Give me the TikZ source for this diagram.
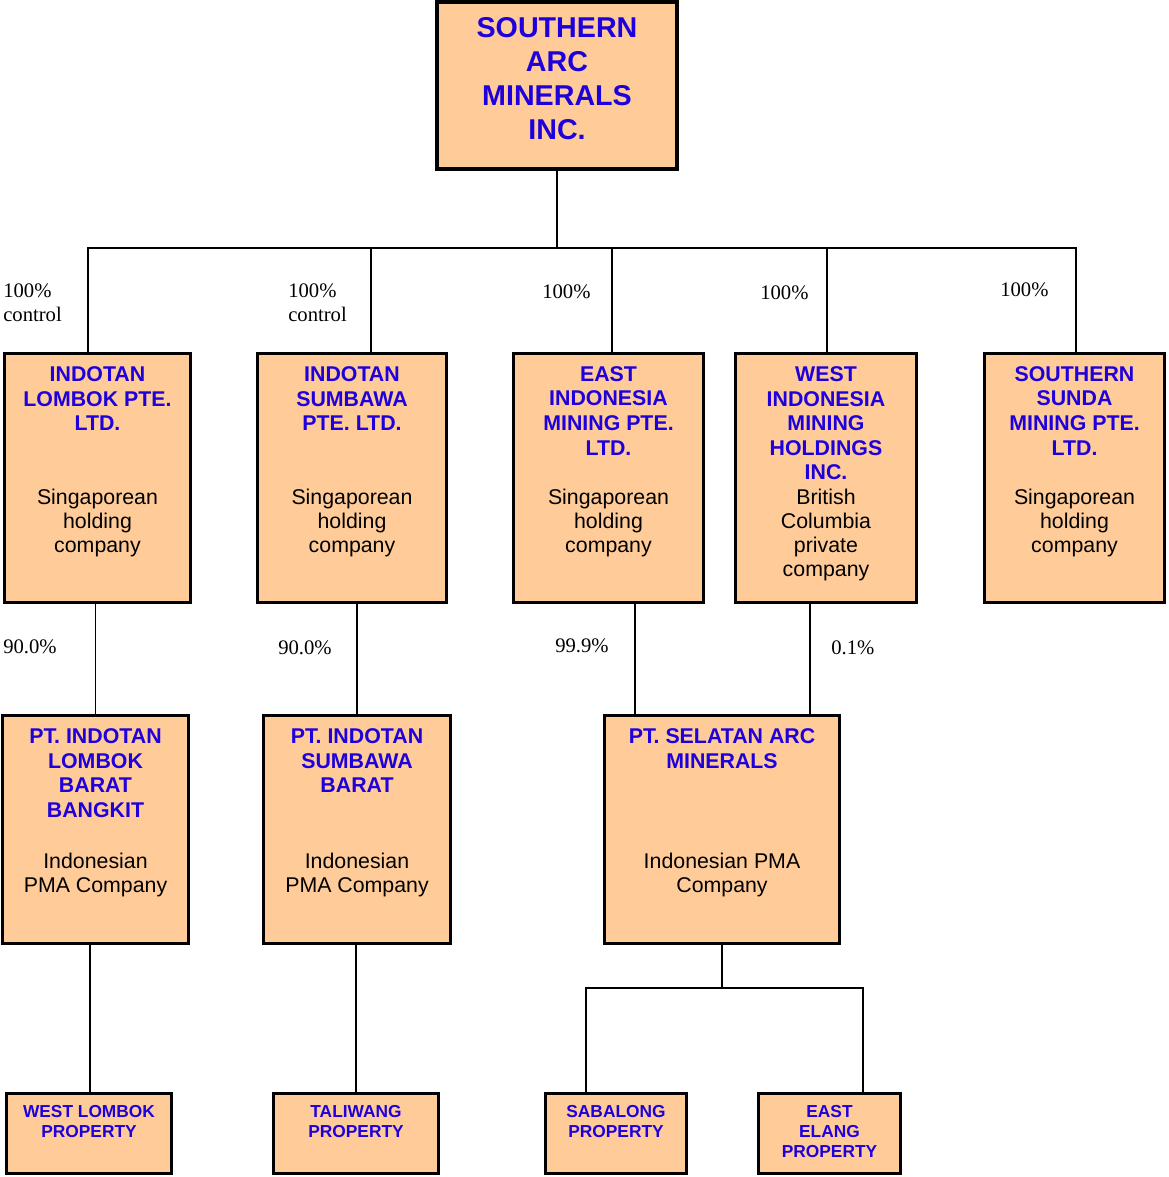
\documentclass[tikz,border=0pt]{standalone}
\usepackage{fontspec}
\setmainfont{Liberation Sans}
\newfontfamily\pctfont{Liberation Serif}
\usetikzlibrary{positioning}
\definecolor{peach}{HTML}{FFCC99}
\definecolor{titleblue}{RGB}{30,0,220}

\begin{document}
\begin{tikzpicture}[x=0.75pt,y=-0.75pt]
\tikzstyle{entity} = [rectangle, draw=black, line width=2.6pt, fill=peach, inner sep=0pt]
\tikzstyle{link} = [draw=black, line width=1pt]
\tikzstyle{bigname} = [text=titleblue, font=\fontsize{21.5}{25.5}\selectfont\bfseries, align=center, inner sep=0pt]
\tikzstyle{coname} = [text=titleblue, font=\fontsize{16}{18.4}\selectfont\bfseries, align=center, inner sep=0pt]
\tikzstyle{propname} = [text=titleblue, font=\fontsize{13}{15}\selectfont\bfseries, align=center, inner sep=0pt]
\tikzstyle{blurb} = [text=black, font=\fontsize{16}{18.2}\selectfont, align=center, inner sep=0pt]
\tikzstyle{share} = [font=\pctfont\fontsize{15.5}{18}\selectfont, align=left, anchor=north west, inner sep=0pt]

\useasboundingbox (0,0) rectangle (1168,1177);

% parent
\node[entity, minimum width=180pt, minimum height=125.25pt] (sam) at (557,85.5) {};
\node[bigname, below=13pt of sam.north] (sam name) {SOUTHERN\\ARC\\MINERALS\\INC.};

% holding companies
\node[entity, minimum width=139.5pt, minimum height=186.75pt] (lombok) at (97.5,478) {};
\node[entity, minimum width=141.75pt, minimum height=186.75pt] (sumbawa) at (352,478) {};
\node[entity, minimum width=142.5pt, minimum height=186.75pt] (eastindo) at (608.5,478) {};
\node[entity, minimum width=135.75pt, minimum height=186.75pt] (westindo) at (826,478) {};
\node[entity, minimum width=135pt, minimum height=186.75pt] (sunda) at (1074.5,478) {};

\node[coname, below=10.9pt of lombok.north] (lombok name) {INDOTAN\\LOMBOK PTE.\\LTD.};
\node[blurb, below=102.4pt of lombok.north] (lombok blurb) {Singaporean\\holding\\company};
\node[coname, below=10.9pt of sumbawa.north] (sumbawa name) {INDOTAN\\SUMBAWA\\PTE. LTD.};
\node[blurb, below=102.4pt of sumbawa.north] (sumbawa blurb) {Singaporean\\holding\\company};
\node[coname, below=10.9pt of eastindo.north] (eastindo name) {EAST\\INDONESIA\\MINING PTE.\\LTD.};
\node[blurb, below=102.4pt of eastindo.north] (eastindo blurb) {Singaporean\\holding\\company};
\node[coname, below=10.9pt of westindo.north] (westindo name) {WEST\\INDONESIA\\MINING\\HOLDINGS\\INC.};
\node[blurb, below=102.4pt of westindo.north] (westindo blurb) {British\\Columbia\\private\\company};
\node[coname, below=10.9pt of sunda.north] (sunda name) {SOUTHERN\\SUNDA\\MINING PTE.\\LTD.};
\node[blurb, below=102.4pt of sunda.north] (sunda blurb) {Singaporean\\holding\\company};

% operating companies
\node[entity, minimum width=139.5pt, minimum height=171pt] (ptlombok) at (95.5,829.5) {};
\node[entity, minimum width=140.25pt, minimum height=171pt] (ptsumbawa) at (357,829.5) {};
\node[entity, minimum width=176.25pt, minimum height=171pt] (selatan) at (722,829.5) {};

\node[coname, below=11.2pt of ptlombok.north] (ptlombok name) {PT. INDOTAN\\LOMBOK\\BARAT\\BANGKIT};
\node[blurb, below=104.2pt of ptlombok.north] (ptlombok blurb) {Indonesian\\PMA Company};
\node[coname, below=11.2pt of ptsumbawa.north] (ptsumbawa name) {PT. INDOTAN\\SUMBAWA\\BARAT};
\node[blurb, below=104.2pt of ptsumbawa.north] (ptsumbawa blurb) {Indonesian\\PMA Company};
\node[coname, below=11.2pt of selatan.north] (selatan name) {PT. SELATAN ARC\\MINERALS};
\node[blurb, below=104.2pt of selatan.north] (selatan blurb) {Indonesian PMA\\Company};

% properties
\node[entity, minimum width=123.75pt, minimum height=60pt] (wlombok) at (89,1133.5) {};
\node[entity, minimum width=123.75pt, minimum height=60pt] (taliwang) at (356,1133.5) {};
\node[entity, minimum width=105.75pt, minimum height=60pt] (sabalong) at (616,1133.5) {};
\node[entity, minimum width=106.5pt, minimum height=60pt] (elang) at (829.5,1133.5) {};

\node[propname, below=10.1pt of wlombok.north] (wlombok name) {WEST LOMBOK\\PROPERTY};
\node[propname, below=10.1pt of taliwang.north] (taliwang name) {TALIWANG\\PROPERTY};
\node[propname, below=10.1pt of sabalong.north] (sabalong name) {SABALONG\\PROPERTY};
\node[propname, below=10.1pt of elang.north] (elang name) {EAST\\ELANG\\PROPERTY};

% connectors
\coordinate (bus) at (557,248);
\coordinate (subbus) at (722,988);
\draw[link] (sam.south) -- (bus);
\draw[link] ([xshift=-7.1pt]lombok.north) |- (bus) -| ([xshift=1.1pt]sunda.north);
\draw[link] ([xshift=14.25pt]sumbawa.north) -- ([xshift=14.25pt]sumbawa.north |- bus);
\draw[link] ([xshift=2.6pt]eastindo.north) -- ([xshift=2.6pt]eastindo.north |- bus);
\draw[link] ([xshift=0.75pt]westindo.north) -- ([xshift=0.75pt]westindo.north |- bus);

\draw[link] (ptlombok.north) -- (ptlombok.north |- lombok.south);
\draw[link] (ptsumbawa.north) -- (ptsumbawa.north |- sumbawa.south);
\draw[link] ([xshift=-65.25pt]selatan.north) -- ([xshift=-65.25pt]selatan.north |- eastindo.south);
\draw[link] ([xshift=66pt]selatan.north) -- ([xshift=66pt]selatan.north |- westindo.south);

\draw[link] ([xshift=0.75pt]wlombok.north) -- ([xshift=0.75pt]wlombok.north |- ptlombok.south);
\draw[link] (taliwang.north) -- (taliwang.north |- ptsumbawa.south);
\draw[link] (selatan.south) -- (subbus);
\draw[link] ([xshift=-22.5pt]sabalong.north) |- (subbus) -| ([xshift=25pt]elang.north);

% ownership
\node[share] (own lombok) at (3,283) {100\%\\control};
\node[share] (own sumbawa) at (288,283) {100\%\\control};
\node[share] (own eastindo) at (542,284) {100\%};
\node[share] (own westindo) at (760,285) {100\%};
\node[share] (own sunda) at (1000,282) {100\%};
\node[share] (own ptlombok) at (3,639) {90.0\%};
\node[share] (own ptsumbawa) at (278,640) {90.0\%};
\node[share] (own selatan a) at (555,638) {99.9\%};
\node[share] (own selatan b) at (831,640) {0.1\%};
\end{tikzpicture}
\end{document}
